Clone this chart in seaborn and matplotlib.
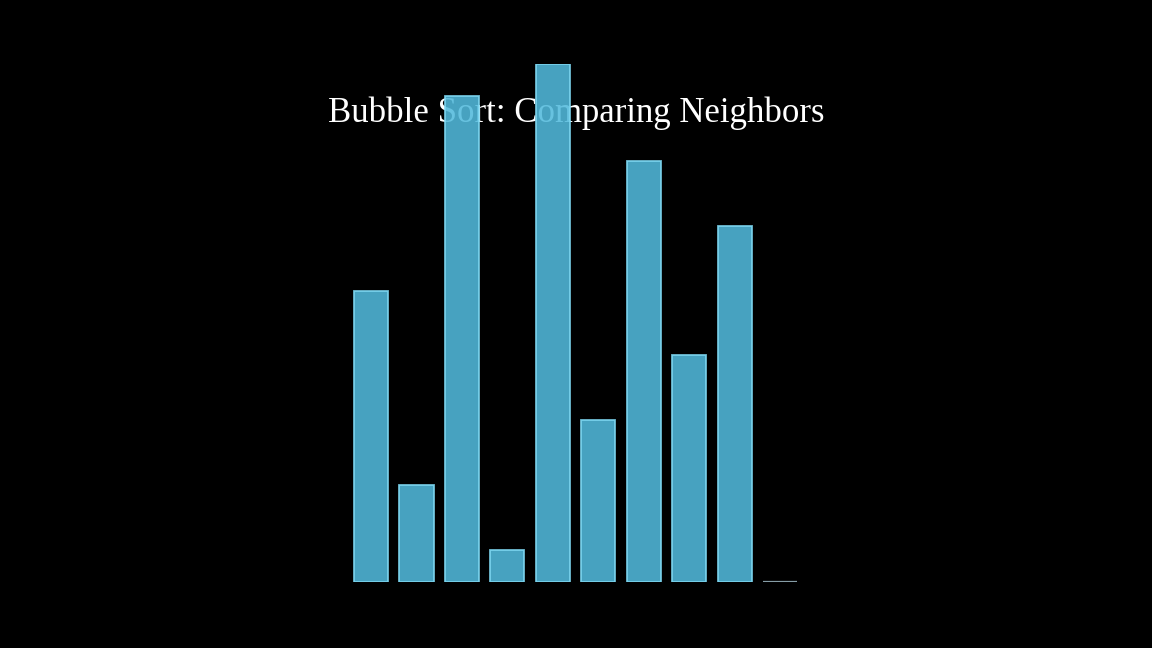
import matplotlib
matplotlib.use("Agg")
import matplotlib.pyplot as plt
import seaborn as sns
import pandas as pd

positions = ["0", "1", "2", "3", "4", "5", "6", "7", "8", "9"]
values = [9, 3, 15, 1, 16, 5, 13, 7, 11, 0]
title = "Bubble Sort: Comparing Neighbors"

sns.set_theme(style="white")
plt.rcParams["font.family"] = ["DejaVu Serif"]

df = pd.DataFrame({"pos": positions, "val": values})

fig = plt.figure(figsize=(11.52, 6.48), dpi=100, facecolor="black")
ax = fig.add_axes([0.3024, 0.1019, 0.3944, 0.7994])
ax.set_facecolor("black")

sns.barplot(data=df, x="pos", y="val", ax=ax, color="#52badc", width=0.75,
            saturation=1, edgecolor="#7fd8f2", linewidth=1.3, alpha=0.88, zorder=2)
# zero-height bar outline
for p in ax.patches:
    if p.get_height() == 0:
        p.set_edgecolor("#9ab4be")
        p.set_linewidth(1.6)

ax.set_ylim(0, 16)
ax.set_xlim(-0.5, 9.5)
ax.axis("off")

ax.text(0.5, 0.826, title, transform=fig.transFigure, ha="center", va="center",
        color="white", fontsize=25, family=["Liberation Serif", "DejaVu Serif"], zorder=0.5)

fig.savefig("out.png", dpi=100, facecolor="black")
